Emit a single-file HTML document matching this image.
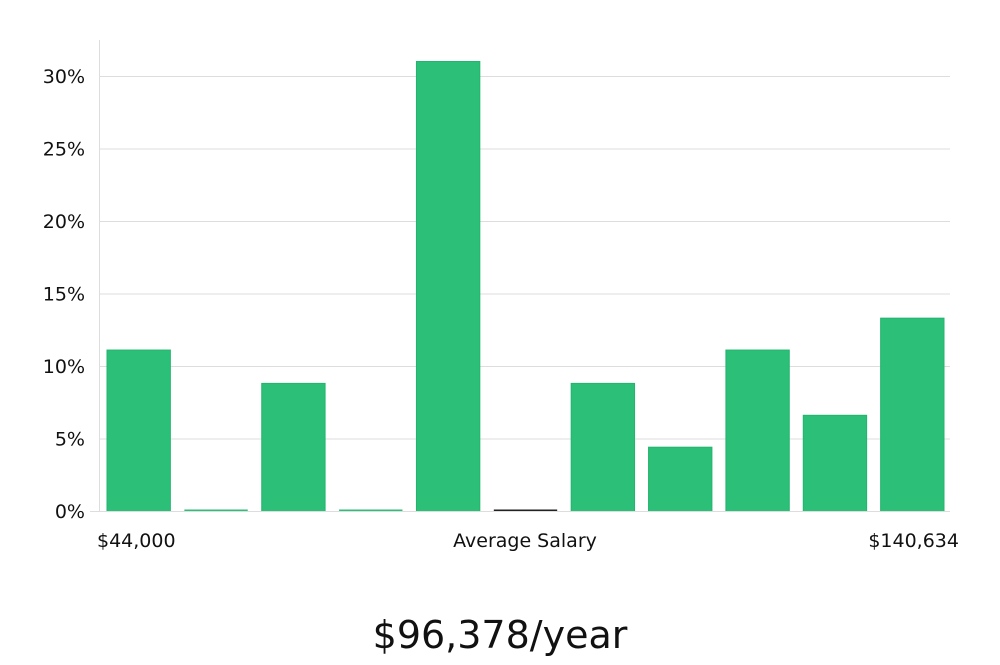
<!DOCTYPE html>
<html><head><meta charset="utf-8"><style>
body{margin:0;background:#fff;width:1000px;height:660px;overflow:hidden}
svg text{font-family:"DejaVu Sans","Liberation Sans",sans-serif}
</style></head><body>
<svg id="chart" width="1000" height="660" xmlns="http://www.w3.org/2000/svg">
<g id="grid"></g><g id="bars"></g><g id="yticks"></g>
<line x1="99.5" y1="40" x2="99.5" y2="512" stroke="#ddd"/>
<line x1="90" y1="511.5" x2="950" y2="511.5" stroke="#ddd"/>
<text x="97" y="547" font-size="19" fill="#111">$44,000</text>
<text x="525" y="547" font-size="19" fill="#111" text-anchor="middle">Average Salary</text>
<text x="959" y="547" font-size="19" fill="#111" text-anchor="end">$140,634</text>
<text x="500" y="648" font-size="38" fill="#111" text-anchor="middle" font-family="Liberation Sans, sans-serif">$96,378/year</text>
</svg>
<script>
const categories=["b1","b2","b3","b4","b5","b6","b7","b8","b9","b10","b11"];
const values=[11.1,0,8.8,0,31.0,0,8.8,4.4,11.1,6.6,13.3];
const yTicks=[0,5,10,15,20,25,30];
const yTickLabels=["0%","5%","10%","15%","20%","25%","30%"];
const avgIndex=5;
const NS="http://www.w3.org/2000/svg";
const x0=99,x1=950,yBase=511,pxPer=14.5;
const step=(x1-x0)/categories.length;
const y=v=>yBase-v*pxPer;
const grid=document.getElementById('grid'),bars=document.getElementById('bars'),yt=document.getElementById('yticks');
yTicks.forEach((t,i)=>{
 if(t>0){const l=document.createElementNS(NS,'line');
 
 
 l.setAttribute('x1',x0);l.setAttribute('x2',x1);l.setAttribute('y1',y(t)+0.5);l.setAttribute('y2',y(t)+0.5);l.setAttribute('stroke','#ddd');grid.appendChild(l);}
 const tx=document.createElementNS(NS,'text');
 
 
 tx.setAttribute('x',85);tx.setAttribute('y',y(t)+7);tx.setAttribute('text-anchor','end');tx.setAttribute('font-size','19');tx.setAttribute('fill','#111');tx.textContent=yTickLabels[i];yt.appendChild(tx);
});
categories.forEach((c,i)=>{
 const bx=x0+i*step+8,bw=step-14;
 const v=values[i];
 const r=document.createElementNS(NS,'rect');
 
 
 const top=Math.min(y(v),yBase-1.5);
 r.setAttribute('x',bx);r.setAttribute('y',top);r.setAttribute('width',bw);r.setAttribute('height',yBase-top+0.5);
 r.setAttribute('fill',(i===avgIndex&&v===0)?'#222':'#2bbf78');
 if(v>0){r.setAttribute('stroke','#22b56d');r.setAttribute('stroke-width','1');}
 bars.appendChild(r);
});
</script>
</body></html>
